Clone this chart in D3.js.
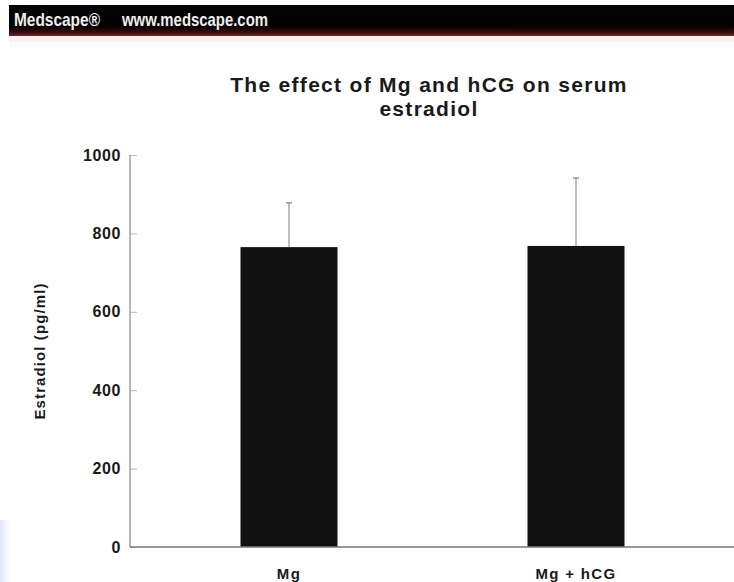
<!DOCTYPE html>
<html>
<head>
<meta charset="utf-8">
<script src="https://cdn.jsdelivr.net/npm/d3@7"></script>
<style>
  body { margin: 0; background: #fff; }
  svg { display: block; font-family: "Liberation Sans", Arial, Helvetica, sans-serif; }
</style>
</head>
<body>
<div id="chart"></div>
<script>
// Data
const groups = ["Mg", "Mg + hCG"];
const means = [765, 768];
const errors = [113, 173];
const yTicks = [0, 200, 400, 600, 800, 1000];
const titleLines = ["The effect of Mg and hCG on serum", "estradiol"];

const width = 734, height = 582;
const svg = d3.select("#chart").append("svg")
    .attr("width", width)
    .attr("height", height);

// Header band
const defs = svg.append("defs");
const hg = defs.append("linearGradient").attr("id", "hdr").attr("x1", 0).attr("y1", 0).attr("x2", 0).attr("y2", 1);
hg.append("stop").attr("offset", "0%").attr("stop-color", "#050505");
hg.append("stop").attr("offset", "70%").attr("stop-color", "#040202");
hg.append("stop").attr("offset", "88%").attr("stop-color", "#3a0c0c");
hg.append("stop").attr("offset", "100%").attr("stop-color", "#6a2a2a");

svg.append("rect").attr("x", 9).attr("y", 5).attr("width", width - 9).attr("height", 31).attr("fill", "url(#hdr)");
svg.append("rect").attr("x", 9).attr("y", 36).attr("width", width - 9).attr("height", 6).attr("fill", "#fdf0ee");
svg.append("rect").attr("x", 9).attr("y", 42).attr("width", width - 9).attr("height", 6).attr("fill", "#f8fcfc");

svg.append("text").attr("x", 14).attr("y", 26)
    .attr("fill", "#eee").style("font-size", "19px").style("font-weight", "bold")
    .attr("textLength", 86).attr("lengthAdjust", "spacingAndGlyphs")
    .text("Medscape®");
svg.append("text").attr("x", 122).attr("y", 26)
    .attr("fill", "#eee").style("font-size", "19px").style("font-weight", "bold")
    .attr("textLength", 146).attr("lengthAdjust", "spacingAndGlyphs")
    .text("www.medscape.com");

// Faint blue smudge at lower left
const lg = defs.append("linearGradient").attr("id", "smudge").attr("x1", 0).attr("x2", 1);
lg.append("stop").attr("offset", "0%").attr("stop-color", "#dde8fb");
lg.append("stop").attr("offset", "100%").attr("stop-color", "#ffffff");
svg.append("rect").attr("x", 0).attr("y", 520).attr("width", 10).attr("height", 62).attr("fill", "url(#smudge)");

// Scales
const y = d3.scaleLinear().domain([0, 1000]).range([547, 155]);
const x = d3.scaleBand().domain(groups).range([145.5, 719.5])
    .paddingInner(0.662).paddingOuter(0.331);

// Title
svg.append("g").selectAll("text").data(titleLines).join("text")
    .attr("x", 429)
    .attr("y", (d, i) => 92 + i * 24)
    .attr("text-anchor", "middle")
    .style("font-size", "21px")
    .style("font-weight", "bold")
    .style("letter-spacing", "1.3px")
    .attr("fill", "#1a1a1a")
    .text(d => d);

// Y axis
const yAxis = svg.append("g").attr("transform", "translate(130,0)")
    .call(d3.axisRight(y).tickValues(yTicks).tickSize(7).tickFormat(""));
yAxis.select(".domain").remove();
yAxis.selectAll(".tick line").attr("stroke", "#bbb");
svg.append("line").attr("x1", 130).attr("x2", 130).attr("y1", y(1000)).attr("y2", y(0))
    .attr("stroke", "#888").attr("stroke-width", 1.2);

svg.append("g").selectAll("text").data(yTicks).join("text")
    .attr("x", 121)
    .attr("y", d => y(d))
    .attr("dy", "0.35em")
    .attr("text-anchor", "end")
    .style("font-size", "16px")
    .style("font-weight", "bold")
    .style("letter-spacing", "0.6px")
    .attr("fill", "#1a1a1a")
    .text(d => d);

// Y axis title
svg.append("text")
    .attr("transform", "translate(45,351) rotate(-90)")
    .attr("text-anchor", "middle")
    .style("font-size", "15px")
    .style("font-weight", "bold")
    .style("letter-spacing", "1.1px")
    .attr("fill", "#1a1a1a")
    .text("Estradiol (pg/ml)");

// Error bars
const eb = svg.append("g").selectAll("g").data(groups).join("g");
eb.append("line")
    .attr("x1", d => x(d) + x.bandwidth() / 2)
    .attr("x2", d => x(d) + x.bandwidth() / 2)
    .attr("y1", (d, i) => y(means[i]))
    .attr("y2", (d, i) => y(means[i] + errors[i]))
    .attr("stroke", "#aaa").attr("stroke-width", 1.5);
eb.append("line")
    .attr("x1", d => x(d) + x.bandwidth() / 2 - 3)
    .attr("x2", d => x(d) + x.bandwidth() / 2 + 3)
    .attr("y1", (d, i) => y(means[i] + errors[i]))
    .attr("y2", (d, i) => y(means[i] + errors[i]))
    .attr("stroke", "#999").attr("stroke-width", 1.5);

// Bars
svg.append("g").selectAll("rect").data(groups).join("rect")
    .attr("x", d => x(d))
    .attr("y", (d, i) => y(means[i]))
    .attr("width", x.bandwidth())
    .attr("height", (d, i) => y(0) - y(means[i]))
    .attr("fill", "#111");

// X axis
svg.append("line").attr("x1", 130).attr("x2", width).attr("y1", y(0)).attr("y2", y(0))
    .attr("stroke", "#777").attr("stroke-width", 1.5);

svg.append("g").selectAll("text").data(groups).join("text")
    .attr("x", d => x(d) + x.bandwidth() / 2)
    .attr("y", 579)
    .attr("text-anchor", "middle")
    .style("font-size", "15px")
    .style("font-weight", "bold")
    .style("letter-spacing", "1.3px")
    .attr("fill", "#1a1a1a")
    .text(d => d);
</script>
</body>
</html>
